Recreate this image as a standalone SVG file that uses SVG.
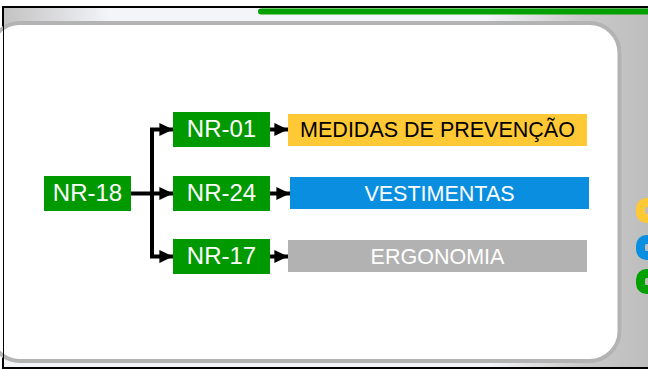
<svg xmlns="http://www.w3.org/2000/svg" width="648" height="370" viewBox="0 0 648 370">
<defs>
<linearGradient id="bg" x1="0" y1="0" x2="1" y2="0">
<stop offset="0" stop-color="#c2c2c2"/>
<stop offset="0.16" stop-color="#f4f5f9"/>
<stop offset="0.72" stop-color="#f4f5f9"/>
<stop offset="0.86" stop-color="#cacaca"/>
<stop offset="1" stop-color="#b9b9b9"/>
</linearGradient>
<linearGradient id="tl" x1="0" y1="0" x2="0" y2="1">
<stop offset="0" stop-color="#f4f5f9" stop-opacity="0"/>
<stop offset="1" stop-color="#f4f5f9" stop-opacity="1"/>
</linearGradient>
<marker id="ah" markerWidth="4" markerHeight="4" refX="3.4" refY="2" orient="auto" markerUnits="strokeWidth">
<path d="M0,0.4 L3.4,2 L0,3.6 Z" fill="#000"/>
</marker>
<style>
.n{fill:#009a00}
.t{font-family:"Liberation Sans",Arial,sans-serif;text-anchor:middle}
.nt{font-size:24px;fill:#fff}
.bt{font-size:21.5px}
.c{fill:none;stroke:#000;stroke-width:4;marker-end:url(#ah)}
.s{fill:none;stroke-width:9}
</style>
</defs>
<rect x="3" y="7" width="670" height="361" fill="url(#bg)" stroke="#000" stroke-width="2"/>
<rect x="4" y="200" width="120" height="167" fill="url(#tl)"/>
<rect x="258" y="8.5" width="400" height="6" rx="3" fill="#00a000"/>
<rect x="-10" y="23" width="629.5" height="338" rx="30" fill="#fff" stroke="#b3b3b3" stroke-width="4"/>
<rect x="3" y="8" width="1" height="359" fill="#000"/>
<g id="side">
<rect class="s" x="640.5" y="202.5" width="18" height="16" rx="6" stroke="#ffc935"/>
<rect class="s" x="640.5" y="239.5" width="18" height="16" rx="6" stroke="#0a8fe0"/>
<rect class="s" x="640.5" y="273.5" width="18" height="16" rx="6" stroke="#00a000"/>
</g>
<g id="connectors">
<line class="c" x1="131" y1="193.5" x2="173" y2="193.5"/>
<path class="c" d="M152,193.5 V129.5 H173"/>
<path class="c" d="M152,193.5 V256.5 H173"/>
<line class="c" x1="270" y1="129.5" x2="288" y2="129.5"/>
<line class="c" x1="270" y1="193.5" x2="290" y2="193.5"/>
<line class="c" x1="270" y1="256.5" x2="288" y2="256.5"/>
</g>
<g id="nr18"><rect class="n" x="44" y="176" width="87" height="35"/><text class="t nt" x="87.5" y="201">NR-18</text></g>
<g id="nr01"><rect class="n" x="173" y="112" width="97" height="35"/><text class="t nt" x="221.5" y="137">NR-01</text></g>
<g id="nr24"><rect class="n" x="173" y="176" width="97" height="35"/><text class="t nt" x="221.5" y="201">NR-24</text></g>
<g id="nr17"><rect class="n" x="173" y="239" width="97" height="35"/><text class="t nt" x="221.5" y="264">NR-17</text></g>
<g id="medidas"><rect x="288" y="114" width="299" height="32" fill="#ffc935"/><text class="t bt" x="437.5" y="137" fill="#000">MEDIDAS DE PREVENÇÃO</text></g>
<g id="vestimentas"><rect x="290" y="177" width="299" height="32" fill="#0a8fe0"/><text class="t bt" x="439.5" y="200.5" fill="#fff">VESTIMENTAS</text></g>
<g id="ergonomia"><rect x="288" y="240" width="299" height="32" fill="#b2b2b2"/><text class="t bt" x="437.5" y="263.5" fill="#fff">ERGONOMIA</text></g>
</svg>
